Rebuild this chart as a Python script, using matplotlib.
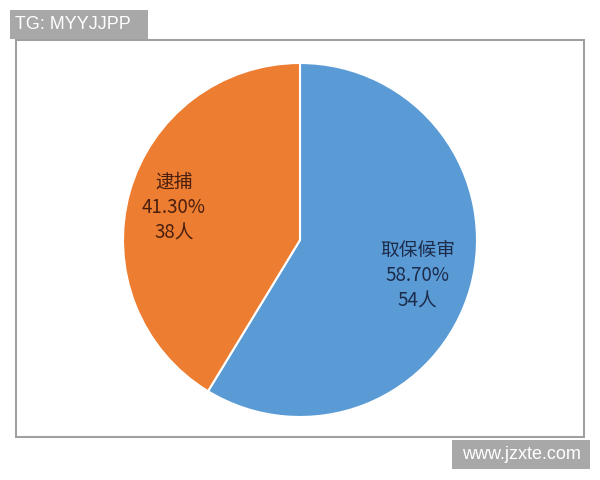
import numpy as np
import matplotlib.pyplot as plt
from matplotlib.patches import Rectangle

plt.rcParams['font.family'] = ['Noto Sans CJK SC', 'DejaVu Sans']

# data
names = ["取保候审", "逮捕"]
shares = [58.70, 41.30]
people = [54, 38]
colors = ["#5B9BD5", "#ED7D31"]
text_colors = ["#1c2b4a", "#4a1f0e"]
label_dist = [0.69, 0.74]

fig = plt.figure(figsize=(6, 4.8), dpi=100)
fig.patch.set_facecolor("white")

# chart border
fig.patches.append(Rectangle((16 / 600, 1 - 437 / 480), 568 / 600, 397 / 480,
                             transform=fig.transFigure, fill=False,
                             edgecolor="#a0a0a0", lw=1.5))

ax = fig.add_axes([0.5 - 177 / 600, 0.5 - 177 / 480, 354 / 600, 354 / 480])
labels = [f"{n}\n{s:.2f}%\n{p}人" for n, s, p in zip(names, shares, people)]
wedges, texts = ax.pie(shares, colors=colors, startangle=90, counterclock=False,
                       labels=labels, labeldistance=0.7,
                       wedgeprops=dict(edgecolor="white", linewidth=1.5),
                       textprops=dict(fontsize=13.5, linespacing=1.28))
for w, t, c, d in zip(wedges, texts, text_colors, label_dist):
    ang = np.deg2rad((w.theta1 + w.theta2) / 2)
    t.set_position((d * np.cos(ang), d * np.sin(ang) - 0.015))
    t.set_ha("center")
    t.set_va("center")
    t.set_color(c)
ax.set_xlim(-1, 1)
ax.set_ylim(-1, 1)
ax.set_aspect("equal")
ax.axis("off")

# watermarks
fig.patches.append(Rectangle((10 / 600, 1 - 39 / 480), 138 / 600, 29 / 480,
                             transform=fig.transFigure, color="#a8a8a8", lw=0))
fig.text(15 / 600, 1 - 24.5 / 480, "TG: MYYJJPP", color="white", fontsize=13,
         family="Liberation Sans", va="center", ha="left")
fig.patches.append(Rectangle((452 / 600, 1 - 469 / 480), 138 / 600, 29 / 480,
                             transform=fig.transFigure, color="#a8a8a8", lw=0))
fig.text(521 / 600, 1 - 454.5 / 480, "www.jzxte.com", color="white", fontsize=13,
         family="Liberation Sans", va="center", ha="center")

fig.savefig("out.png", dpi=100)
